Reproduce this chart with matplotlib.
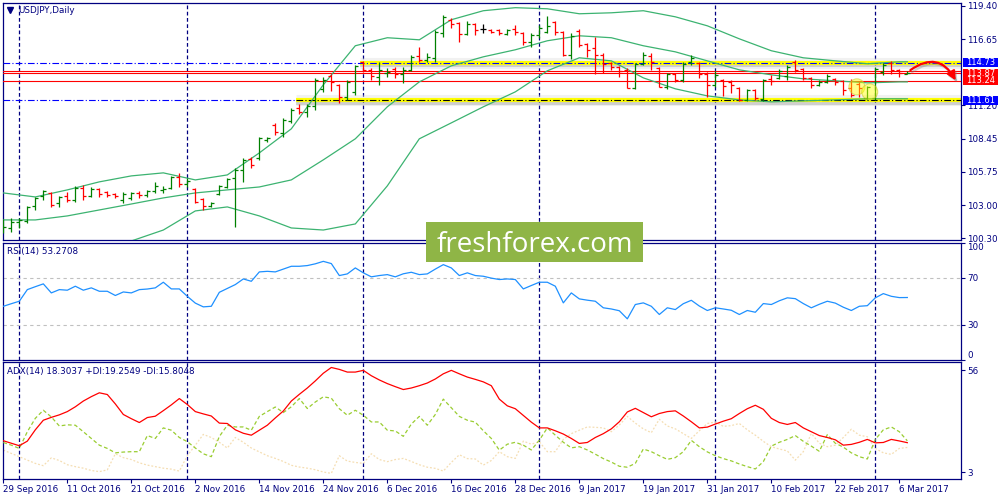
import numpy as np
import matplotlib.pyplot as plt
import matplotlib.patheffects as pe
import matplotlib.transforms as mtransforms
from matplotlib.patches import Rectangle, Ellipse, FancyArrowPatch

plt.rcParams['font.family'] = ['DejaVu Sans']

# --- USDJPY daily bars, 29 Sep 2016 .. 7 Mar 2017 ---
opens = [
    101.05, 101.13, 101.62, 101.71, 102.94, 103.76, 104.01, 103.19, 103.76, 103.43,
    104.42, 103.76, 104.34, 104.09, 103.93, 103.43, 103.60, 104.01, 103.85, 104.17,
    104.26, 104.42, 105.33, 104.75, 104.34, 103.52, 102.94, 103.93, 104.50, 105.24,
    105.90, 106.81, 106.89, 108.37, 109.61, 108.95, 109.93, 111.00, 110.67, 111.17,
    112.57, 113.64, 112.90, 111.91, 112.32, 114.79, 114.13, 113.56, 113.89, 114.22,
    113.80, 114.13, 115.28, 114.96, 115.12, 117.18, 118.25, 118.00, 117.09, 117.92,
    117.51, 117.42, 117.42, 117.09, 117.51, 117.18, 116.44, 117.01, 117.26, 118.08,
    117.26, 115.37, 117.34, 116.27, 115.94, 115.37, 114.71, 114.38, 114.13, 112.65,
    114.63, 115.28, 114.30, 112.73, 113.80, 113.31, 114.79, 114.71, 113.80, 112.90,
    113.31, 113.14, 112.65, 111.66, 112.49, 111.75, 113.39, 113.47, 113.64, 114.79,
    114.22, 113.47, 112.90, 113.14, 113.39, 113.23, 112.65, 112.98, 111.83, 111.83,
    113.97, 114.71, 114.13, 113.82]
highs = [
    101.87, 101.95, 101.95, 102.94, 103.68, 104.26, 104.09, 103.76, 104.09, 104.59,
    104.67, 104.50, 104.42, 104.17, 104.01, 104.09, 104.09, 104.17, 104.26, 104.92,
    104.59, 105.41, 105.66, 105.24, 104.42, 103.60, 103.27, 104.67, 105.24, 106.07,
    106.89, 106.97, 108.62, 108.62, 109.77, 110.18, 111.00, 111.33, 111.33, 113.47,
    113.56, 113.80, 112.98, 113.31, 114.54, 114.87, 114.30, 114.79, 114.30, 114.38,
    114.38, 115.37, 116.03, 115.53, 117.42, 118.66, 118.41, 118.08, 118.17, 118.00,
    117.92, 117.51, 117.51, 117.51, 117.84, 117.22, 117.18, 117.84, 118.58, 118.17,
    117.34, 117.18, 117.51, 116.36, 116.85, 115.53, 114.79, 114.42, 114.30, 114.71,
    115.61, 115.53, 114.38, 113.89, 113.89, 114.79, 115.37, 114.79, 113.97, 114.05,
    113.39, 113.31, 112.73, 112.57, 112.57, 113.39, 113.72, 114.22, 114.54, 114.96,
    114.30, 113.56, 113.31, 113.80, 113.45, 113.28, 113.39, 113.14, 112.82, 114.38,
    114.71, 114.87, 114.18, 114.02]
lows = [
    100.72, 100.80, 101.13, 101.54, 102.61, 103.43, 102.86, 102.86, 103.27, 103.27,
    103.43, 103.68, 103.68, 103.68, 103.60, 103.19, 103.43, 103.60, 103.68, 104.01,
    104.01, 104.34, 104.50, 104.50, 103.19, 102.61, 102.86, 103.85, 104.42, 101.21,
    104.92, 106.07, 106.73, 108.21, 108.78, 108.62, 109.77, 110.51, 110.26, 110.84,
    112.32, 112.40, 111.42, 111.66, 112.08, 113.97, 113.31, 112.90, 113.56, 113.47,
    113.06, 114.05, 114.79, 114.79, 114.79, 116.85, 117.59, 116.44, 117.01, 117.01,
    117.18, 117.18, 117.01, 117.01, 117.01, 116.19, 116.03, 116.77, 117.18, 117.01,
    115.28, 115.04, 116.03, 115.20, 113.80, 113.89, 114.13, 113.56, 112.60, 112.57,
    114.54, 114.13, 112.68, 112.57, 113.14, 113.14, 114.54, 113.47, 111.91, 112.73,
    111.99, 112.24, 111.58, 111.58, 111.66, 111.58, 112.90, 113.40, 113.31, 113.97,
    113.31, 112.65, 112.82, 113.06, 112.90, 112.08, 111.91, 111.91, 111.66, 111.66,
    113.72, 113.80, 113.56, 113.78]
closes = [
    101.21, 101.62, 101.79, 102.86, 103.60, 104.17, 103.02, 103.68, 103.43, 104.42,
    103.76, 104.34, 103.93, 103.85, 103.76, 103.93, 104.01, 103.85, 104.17, 104.59,
    104.34, 105.33, 104.75, 105.00, 103.27, 102.94, 103.19, 104.59, 105.16, 105.90,
    106.73, 106.32, 108.54, 108.54, 109.03, 110.02, 110.84, 110.67, 111.17, 113.31,
    113.31, 113.14, 111.91, 113.14, 114.46, 114.13, 113.64, 114.13, 113.97, 113.80,
    114.13, 115.20, 114.96, 115.20, 117.26, 118.49, 117.92, 117.09, 117.92, 117.42,
    117.51, 117.26, 117.18, 117.42, 117.26, 116.44, 117.01, 117.59, 117.75, 117.26,
    115.37, 116.93, 116.19, 115.78, 115.37, 114.63, 114.38, 114.05, 112.65, 114.63,
    115.37, 114.79, 112.73, 113.80, 113.31, 114.63, 115.12, 113.80, 112.90, 113.72,
    112.82, 112.90, 111.66, 112.49, 111.83, 113.31, 113.23, 114.05, 114.38, 114.13,
    113.47, 112.90, 113.14, 113.64, 113.14, 112.49, 112.08, 112.65, 112.73, 114.22,
    114.54, 114.13, 113.89, 113.87]

# Bollinger bands, sampled every 4th bar (+ last bar)
bb_idx = list(range(0, 113, 4)) + [113]
bb_upper = [104.01, 103.68, 104.26, 104.92, 105.41, 105.66, 105.08, 105.49, 107.30, 109.28,
            112.90, 116.11, 116.77, 116.60, 118.25, 118.99, 119.24, 119.15, 118.74, 118.82,
            118.99, 118.49, 117.75, 116.68, 115.70, 115.12, 114.87, 114.63, 114.79, 114.79]
bb_middle = [101.79, 101.79, 102.12, 102.61, 103.10, 103.60, 104.01, 104.26, 104.50, 105.08,
             106.73, 108.46, 111.09, 113.14, 114.46, 115.20, 115.78, 116.52, 116.93, 116.77,
             116.11, 115.61, 114.87, 114.13, 113.72, 113.39, 113.23, 113.06, 113.14, 113.14]
bb_lower = [99.48, 99.65, 99.81, 99.98, 100.06, 100.96, 102.53, 102.86, 102.12, 101.13,
            100.96, 101.46, 104.59, 108.46, 109.77, 111.09, 112.32, 114.05, 115.12, 114.87,
            113.47, 112.57, 111.99, 111.66, 111.50, 111.58, 111.66, 111.75, 111.75, 111.75]

rsi = [45.8, 48.0, 50.1, 60.0, 62.5, 64.9, 57.2, 60.0, 59.5, 62.9,
       59.5, 61.5, 58.6, 58.6, 55.0, 58.0, 57.2, 60.0, 60.5, 61.5,
       66.3, 60.6, 60.6, 54.3, 48.5, 45.3, 45.8, 57.7, 61.0, 64.3,
       69.1, 67.1, 75.1, 75.6, 75.1, 77.5, 79.9, 79.9, 80.5, 82.0,
       84.1, 82.2, 72.0, 73.4, 78.5, 74.3, 70.9, 72.0, 72.8, 70.9,
       73.5, 74.8, 72.8, 73.4, 77.5, 81.3, 78.5, 72.0, 74.3, 72.0,
       71.4, 69.8, 68.6, 69.1, 68.6, 60.6, 63.5, 66.3, 66.3, 62.9,
       48.7, 57.2, 52.1, 51.0, 50.1, 44.5, 43.5, 42.0, 35.1, 47.3,
       48.7, 45.8, 38.8, 44.5, 43.0, 48.0, 50.9, 46.0, 42.2, 44.5,
       43.5, 42.4, 38.8, 42.2, 40.7, 48.1, 47.3, 50.5, 53.0, 52.3,
       48.1, 44.5, 47.5, 50.1, 48.5, 45.0, 42.2, 45.8, 46.3, 53.0,
       56.6, 54.3, 53.2, 53.27]

adx = [19.3, 18.0, 16.7, 19.1, 25.0, 30.0, 31.5, 32.8, 34.5, 37.0,
       40.0, 42.3, 44.3, 43.4, 38.5, 33.0, 30.8, 28.8, 31.4, 32.1,
       35.0, 38.0, 41.3, 38.2, 34.5, 33.3, 32.2, 28.5, 28.3, 25.0,
       23.2, 22.2, 24.8, 27.4, 31.2, 34.8, 40.0, 43.5, 46.8, 50.5,
       54.5, 57.5, 56.5, 55.1, 55.1, 56.0, 53.2, 51.0, 49.1, 47.5,
       46.0, 46.8, 48.0, 49.4, 51.5, 54.2, 56.0, 54.2, 52.5, 51.3,
       50.0, 48.0, 41.0, 37.5, 36.0, 32.5, 29.0, 26.0, 26.0, 24.5,
       22.8, 20.5, 17.9, 18.4, 21.0, 23.0, 25.5, 29.2, 34.3, 36.2,
       34.0, 31.8, 33.5, 34.5, 34.9, 32.2, 29.2, 26.0, 26.4, 28.0,
       29.5, 30.8, 33.5, 36.0, 37.8, 35.7, 31.0, 28.8, 27.8, 28.8,
       26.0, 24.0, 22.0, 21.0, 19.8, 17.0, 17.4, 18.5, 20.0, 18.2,
       18.4, 20.0, 19.2, 18.3]
plus_di = [18.4, 17.0, 15.3, 24.0, 31.0, 35.2, 31.7, 27.0, 27.6, 27.4,
           24.0, 20.5, 17.0, 15.3, 13.0, 13.4, 13.6, 13.6, 22.0, 20.5,
           26.0, 24.8, 21.0, 18.8, 15.5, 12.5, 11.0, 21.5, 27.4, 26.5,
           26.5, 24.8, 32.0, 34.5, 36.9, 34.0, 37.0, 41.3, 36.1, 39.5,
           42.2, 41.5, 36.0, 32.6, 35.2, 32.6, 29.1, 29.1, 24.8, 24.4,
           21.6, 28.0, 32.0, 27.4, 33.0, 41.0, 36.5, 32.0, 30.0, 29.0,
           24.5, 20.5, 14.4, 17.5, 18.5, 17.0, 14.5, 19.6, 26.0, 22.2,
           18.5, 15.6, 16.2, 14.5, 12.3, 10.0, 8.2, 6.0, 5.5, 7.5,
           15.0, 13.6, 11.5, 9.6, 10.5, 13.6, 19.5, 16.2, 13.5, 11.5,
           10.0, 8.8, 7.2, 5.8, 4.6, 8.4, 16.5, 18.5, 20.0, 22.0,
           19.0, 16.5, 13.8, 22.5, 18.0, 16.0, 13.0, 11.0, 9.8, 20.0,
           25.0, 26.5, 24.0, 19.25]
minus_di = [14.4, 12.7, 11.0, 9.2, 7.5, 6.3, 10.4, 9.0, 6.8, 5.8,
            5.0, 3.8, 3.2, 4.1, 12.5, 10.5, 9.5, 7.8, 6.6, 5.8,
            5.0, 4.5, 3.5, 11.5, 17.0, 22.6, 21.0, 18.5, 15.5, 21.0,
            18.5, 15.5, 13.5, 11.5, 10.1, 8.5, 6.5, 5.6, 5.0, 4.2,
            3.0, 2.3, 11.5, 8.7, 8.0, 7.5, 12.5, 9.5, 8.4, 9.5,
            10.1, 8.5, 6.8, 5.5, 4.9, 3.5, 8.0, 12.0, 10.0, 9.8,
            6.6, 9.0, 13.6, 11.0, 10.1, 19.1, 17.5, 18.8, 13.6, 13.6,
            20.0, 23.0, 24.8, 26.5, 26.3, 26.0, 24.0, 27.5, 32.0, 28.5,
            25.5, 23.5, 30.5, 27.0, 25.5, 23.0, 20.5, 24.5, 28.3, 29.1,
            26.8, 27.2, 28.3, 25.0, 22.2, 19.0, 16.2, 15.0, 14.0, 9.2,
            13.6, 23.1, 18.0, 16.2, 17.0, 21.0, 25.3, 22.2, 21.4, 15.3,
            13.0, 12.2, 15.3, 15.8]

date_labels = ["29 Sep 2016", "11 Oct 2016", "21 Oct 2016", "2 Nov 2016", "14 Nov 2016",
               "24 Nov 2016", "6 Dec 2016", "16 Dec 2016", "28 Dec 2016", "9 Jan 2017",
               "19 Jan 2017", "31 Jan 2017", "10 Feb 2017", "22 Feb 2017", "6 Mar 2017"]
month_starts = [2, 23, 45, 67, 89, 109]
price_ticks = [119.40, 116.65, 111.20, 108.45, 105.75, 103.00, 100.30]
resistance, support = 114.73, 111.61
bid_lines = [114.03, 113.87, 113.24]

NAVY = "#000080"
FS = 6.3

fig = plt.figure(figsize=(10, 5), dpi=100)
ax = fig.add_axes([0.003, 0.52, 0.958, 0.4746])
ax_rsi = fig.add_axes([0.003, 0.28, 0.958, 0.2346])
ax_adx = fig.add_axes([0.003, 0.042, 0.958, 0.2334])

x = np.arange(len(closes))
o, h, l, c = (np.array(v) for v in (opens, highs, lows, closes))

for a in (ax, ax_rsi, ax_adx):
    a.set_xlim(-0.04, 119.71)
    for s in a.spines.values():
        s.set_color(NAVY)
        s.set_linewidth(0.9)
    a.yaxis.tick_right()
    a.tick_params(axis="both", labelsize=FS, labelcolor=NAVY, color=NAVY,
                  length=3, width=0.8, pad=1.5)
    for m in month_starts:
        a.axvline(m, color=NAVY, ls=(0, (3, 2)), lw=0.9, zorder=1)

# --- price panel ---
ax.set_ylim(100.14, 119.65)
ax.set_xticks([])
ax.set_yticks(price_ticks, labels=[f"{p:.2f}" for p in price_ticks])

shadow = [pe.Stroke(linewidth=8, foreground="#d8d8d8", alpha=0.35),
          pe.SimpleLineShadow(offset=(0, -1.5), shadow_color="#909090", alpha=0.35),
          pe.Normal()]
ax.plot([44.6, 119.71], [resistance] * 2, color="#ffff00", lw=3.0,
        solid_capstyle="butt", zorder=2, path_effects=shadow)
ax.plot([36.6, 119.71], [support] * 2, color="#ffff00", lw=3.0,
        solid_capstyle="butt", zorder=2, path_effects=shadow)
ax.axhline(resistance, color="#0000ff", ls=(0, (6, 2, 1, 2)), lw=0.8, zorder=3)
ax.plot([-0.04, 36.6], [support] * 2, color="#0000ff", ls=(0, (6, 2, 1, 2)), lw=0.8, zorder=3)
ax.plot([36.6, 119.71], [support] * 2, color="#000000", ls=(0, (6, 2, 1, 2)), lw=0.8, zorder=3)
for p in bid_lines:
    ax.axhline(p, color="#ff0000", lw=0.8, zorder=3)

for band in (bb_upper, bb_middle, bb_lower):
    ax.plot(bb_idx, band, color="#3cb371", lw=0.9, zorder=4)

cols = np.where(c > o, "#008000", np.where(c < o, "#ff0000", "#000000"))
ax.vlines(x, l, h, colors=cols, lw=0.9, zorder=5)
ax.hlines(o, x - 0.375, x, colors=cols, lw=0.9, zorder=5)
ax.hlines(c, x, x + 0.375, colors=cols, lw=0.9, zorder=5)

for cx, cy in [(106.7, 112.73), (108.3, 112.32)]:
    ax.add_patch(Ellipse((cx, cy), 2.0, 1.32, fc=(1, 1, 0, 0.45),
                         ec=(0.8, 0.8, 0.2, 0.6), lw=0.8, zorder=6))

# forecast arrow with a soft grey drop shadow
shift = mtransforms.ScaledTranslation(1.2 / 72, -1.5 / 72, fig.dpi_scale_trans)
for tf, colr, al, z in [(ax.transData + shift, "#808080", 0.35, 6.5),
                        (ax.transData, "#ff0000", 1.0, 7)]:
    ax.add_patch(FancyArrowPatch((113.1, 113.97), (119.2, 113.06), connectionstyle="arc3,rad=-0.6",
                                 arrowstyle="-|>", mutation_scale=13, color=colr, alpha=al,
                                 lw=1.6, zorder=z, transform=tf))

tr = ax.get_yaxis_transform()
for p, fc in [(resistance, "#0000ff"), (113.87, "#ff0000"), (113.24, "#ff0000"), (support, "#0000ff")]:
    ax.add_patch(Rectangle((1.002, p - 0.37), 0.0365, 0.74, transform=tr, fc=fc,
                           ec="none", clip_on=False, zorder=10))
    ax.text(1.0202, p, f"{p:.2f}", transform=tr, color="white", fontsize=6.0,
            ha="center", va="center", clip_on=False, zorder=11)

ax.plot([0.0075], [0.968], marker="v", ms=4, color=NAVY, transform=ax.transAxes, clip_on=False)
ax.text(0.0157, 0.9675, "USDJPY,Daily", transform=ax.transAxes, fontsize=FS,
        color=NAVY, ha="left", va="center")

# --- RSI panel ---
ax_rsi.set_ylim(0, 100)
ax_rsi.set_xticks([])
ax_rsi.axhline(70, color="#c0c0c0", ls=(0, (3, 3)), lw=0.8)
ax_rsi.axhline(30, color="#c0c0c0", ls=(0, (3, 3)), lw=0.8)
ax_rsi.plot(x, rsi, color="#1e90ff", lw=0.9, zorder=3)
ax_rsi.set_yticks([0, 30, 70, 100], labels=["0", "30", "70", "100"])
lbls = ax_rsi.get_yticklabels()
lbls[0].set_va("bottom")
lbls[-1].set_va("top")
ax_rsi.text(0.0045, 0.923, "RSI(14) 53.2708", transform=ax_rsi.transAxes, fontsize=FS,
            color=NAVY, ha="left", va="center")

# --- ADX panel ---
ax_adx.set_ylim(-0.64, 60.2)
ax_adx.plot(x, minus_di, color="#f5deb3", ls=(0, (1.5, 1.5)), lw=0.9, zorder=2)
ax_adx.plot(x, plus_di, color="#9acd32", ls=(0, (3, 2)), lw=0.9, zorder=3)
ax_adx.plot(x, adx, color="#ff0000", lw=0.9, zorder=4)
ax_adx.set_yticks([3, 56], labels=["3", "56"])
ax_adx.set_xticks(list(range(0, 113, 8)), labels=date_labels, ha="left")
ax_adx.text(0.0045, 0.925, "ADX(14) 18.3037 +DI:19.2549 -DI:15.8048", transform=ax_adx.transAxes,
            fontsize=FS, color=NAVY, ha="left", va="center")

# watermark
fig.add_artist(Rectangle((0.426, 0.476), 0.217, 0.08, transform=fig.transFigure,
                         fc="#8fb546", ec="none", zorder=20))
fig.text(0.5345, 0.4966, "freshforex.com", color="white", fontsize=20, family="Open Sans",
         ha="center", va="baseline", zorder=21)

fig.savefig("out.png", dpi=100)
